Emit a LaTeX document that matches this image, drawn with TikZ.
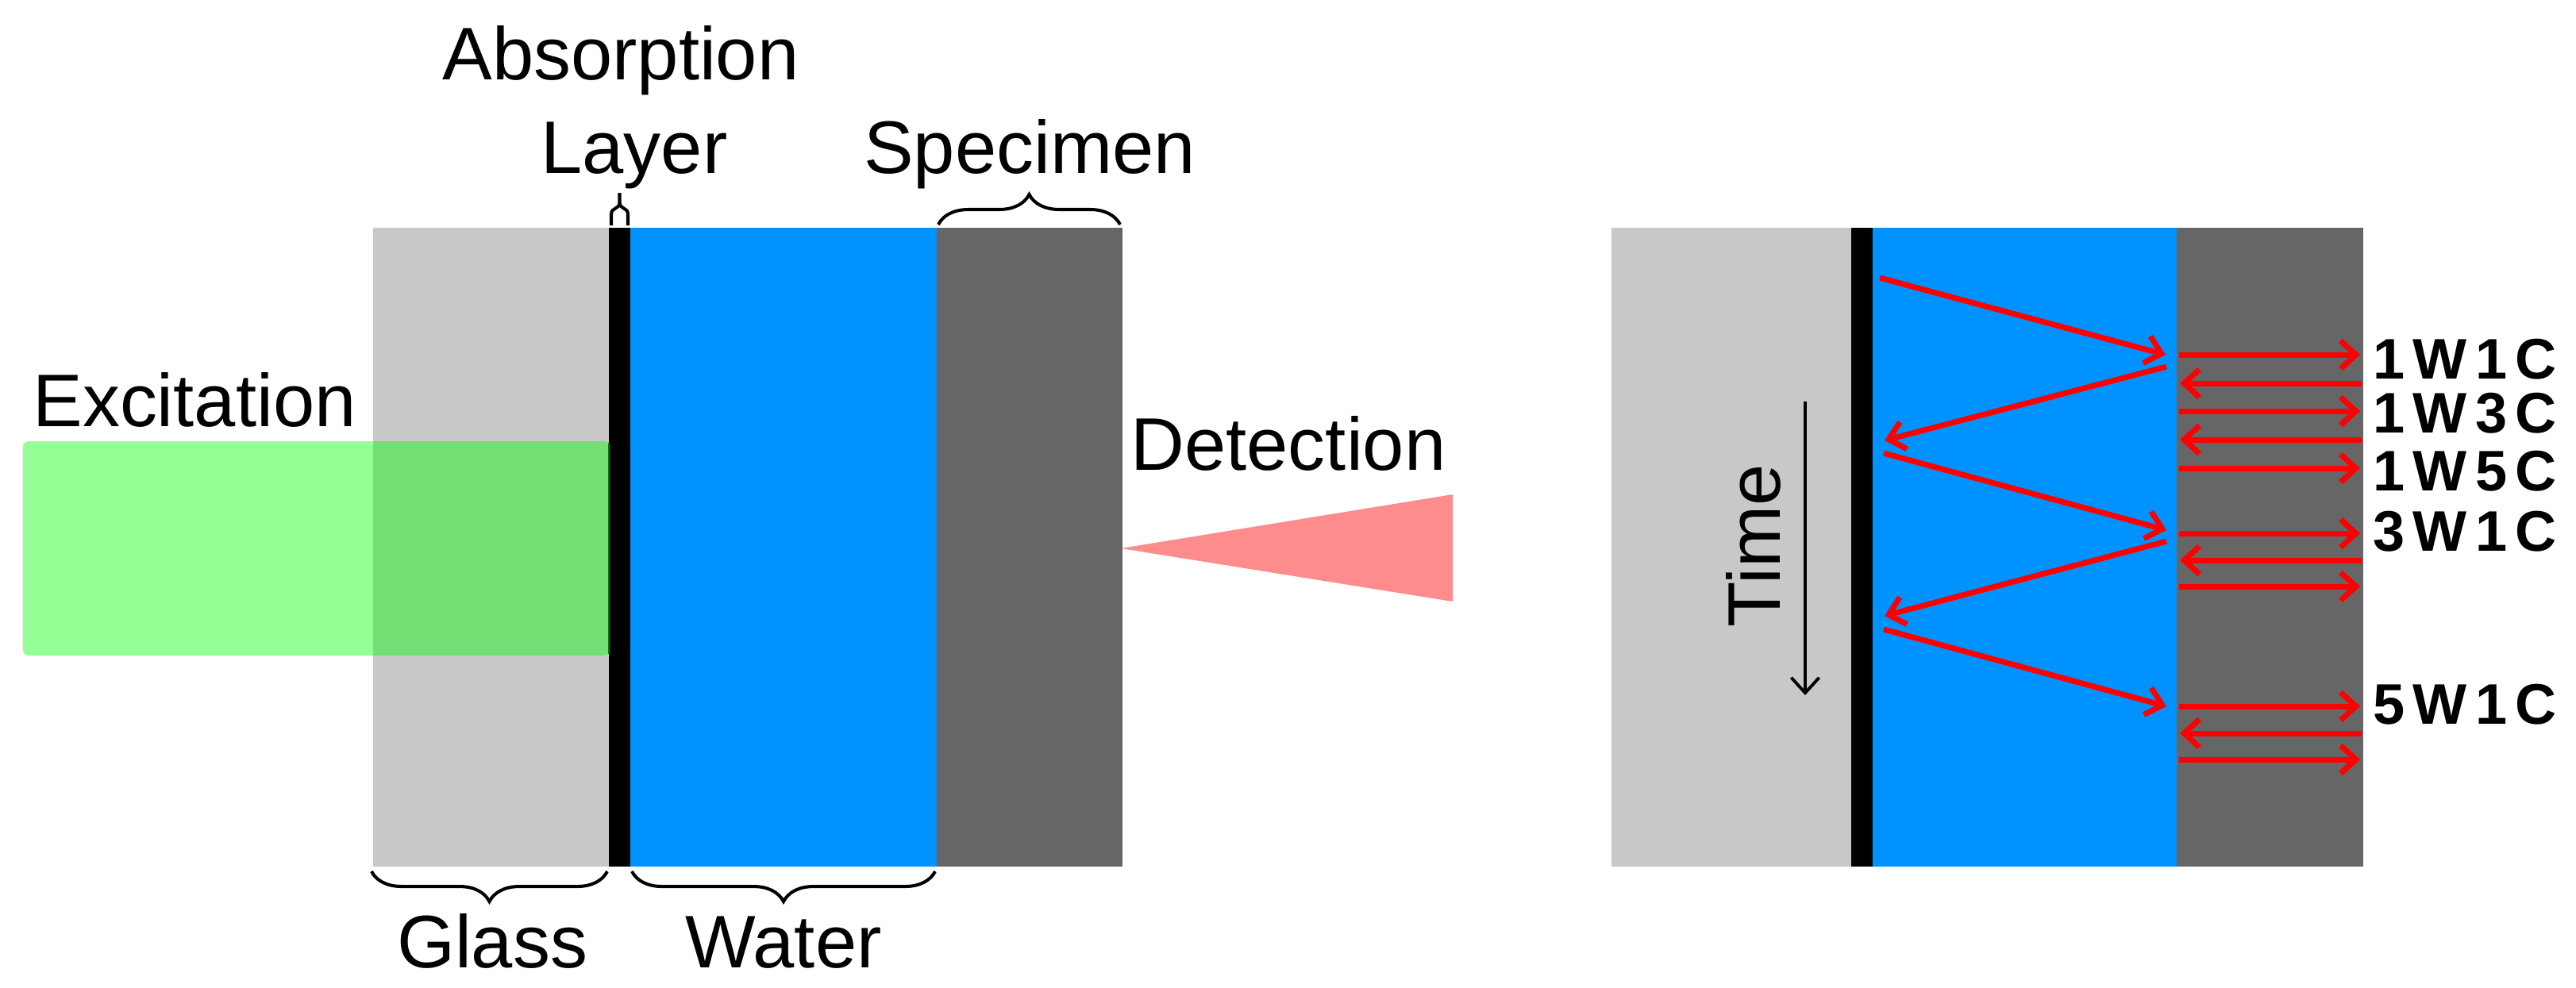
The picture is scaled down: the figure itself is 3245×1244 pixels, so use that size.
\documentclass[tikz,border=0pt]{standalone}
\usepackage{fontspec}
\setmainfont{Liberation Sans}
\newfontfamily\lblfont[LetterSpace=14]{Liberation Sans}
\usetikzlibrary{arrows.meta,decorations.pathreplacing}
\definecolor{glassgray}{RGB}{200,200,200}
\definecolor{waterblue}{RGB}{0,147,255}
\definecolor{specgray}{RGB}{102,102,102}
\tikzset{
  txt/.style={inner sep=0pt, font=\fontsize{26.7pt}{32pt}\selectfont},
  lbl/.style={inner sep=0pt, anchor=base west, font=\lblfont\bfseries\fontsize{20.5pt}{24pt}\selectfont},
  redarr/.style={draw=red, line width=2pt, -{Straight Barb[length=5.5pt,width=10pt]}},
  timearr/.style={draw=black, line width=1.1pt, -{Straight Barb[length=5.5pt,width=10pt]}},
  bracestyle/.style={draw=black, line width=1.15pt, decorate, decoration={brace, amplitude=0.38cm}},
}
\begin{document}
\begin{tikzpicture}[x=0.01cm, y=-0.01cm]
\useasboundingbox (0,0) rectangle (3245,1244);
% ---------- left diagram ----------
\fill[glassgray] (470,287) rectangle (767,1092);
\fill[black] (767,287) rectangle (794,1092);
\fill[waterblue] (794,287) rectangle (1180,1092);
\fill[specgray] (1180,287) rectangle (1414,1092);
% excitation beam
\fill[green, opacity=0.42, rounded corners=2] (29,556) rectangle (768,826);
\draw[green!50!black, line width=0.4pt] (767,558) -- (767,824);
% detection cone
\fill[red, opacity=0.45] (1412,691) -- (1830,623) -- (1830,758) -- cycle;
% braces
\draw[bracestyle] (1182,283) -- (1411,283);
\draw[black, line width=1.15pt] (770,284) -- (770,270) .. controls (770,261) and (780.5,264) .. (780.5,255) -- (780.5,243);
\draw[black, line width=1.15pt] (791,284) -- (791,270) .. controls (791,261) and (780.5,264) .. (780.5,255);
\draw[bracestyle] (765,1098) -- (468,1098);
\draw[bracestyle] (1178,1098) -- (796,1098);
% labels
\node[txt, anchor=base] (absorption) at (782,100) {Absorption};
\node[txt, anchor=base] (layer) at (799,218) {Layer};
\node[txt, anchor=base] (specimen) at (1297,218) {Specimen};
\node[txt, anchor=base] (excitation) at (245,537) {Excitation};
\node[txt, anchor=base] (detection) at (1623,592) {Detection};
\node[txt, anchor=base] (glass) at (620,1219) {Glass};
\node[txt, anchor=base] (water) at (987,1219) {Water};
% ---------- right diagram ----------
\fill[glassgray] (2030,287) rectangle (2332,1092);
\fill[black] (2332,287) rectangle (2359,1092);
\fill[waterblue] (2359,287) rectangle (2742,1092);
\fill[specgray] (2742,287) rectangle (2977,1092);
% time
\node[txt, anchor=base, rotate=90] (time) at (2242,688) {Time};
\coordinate (t0) at (2274,506);
\coordinate (t1) at (2274,876);
\draw[timearr] (t0) -- (t1);
% zigzag
\coordinate (d1s) at (2368,350); \coordinate (d1e) at (2728,447);
\coordinate (d2s) at (2729,462); \coordinate (d2e) at (2374,555);
\coordinate (d3s) at (2373,571); \coordinate (d3e) at (2729,668);
\coordinate (d4s) at (2729,682); \coordinate (d4e) at (2374,776);
\coordinate (d5s) at (2373,793); \coordinate (d5e) at (2729,890);
\foreach \i in {1,...,5} \draw[redarr] (d\i s) -- (d\i e);
% horizontal arrows in specimen
\foreach \y [count=\k] in {447,518,590,672,739,890,957} {
  \coordinate (r\k s) at (2745,\y); \coordinate (r\k e) at (2973,\y);
  \draw[redarr] (r\k s) -- (r\k e);
}
\foreach \y [count=\k] in {483,554,706,924} {
  \coordinate (l\k s) at (2975,\y); \coordinate (l\k e) at (2746,\y);
  \draw[redarr] (l\k s) -- (l\k e);
}
% labels
\node[lbl] (w1c1) at (2989,477) {1W1C};
\node[lbl] (w1c3) at (2989,545) {1W3C};
\node[lbl] (w1c5) at (2989,618) {1W5C};
\node[lbl] (w3c1) at (2989,694) {3W1C};
\node[lbl] (w5c1) at (2989,912) {5W1C};
\end{tikzpicture}
\end{document}
